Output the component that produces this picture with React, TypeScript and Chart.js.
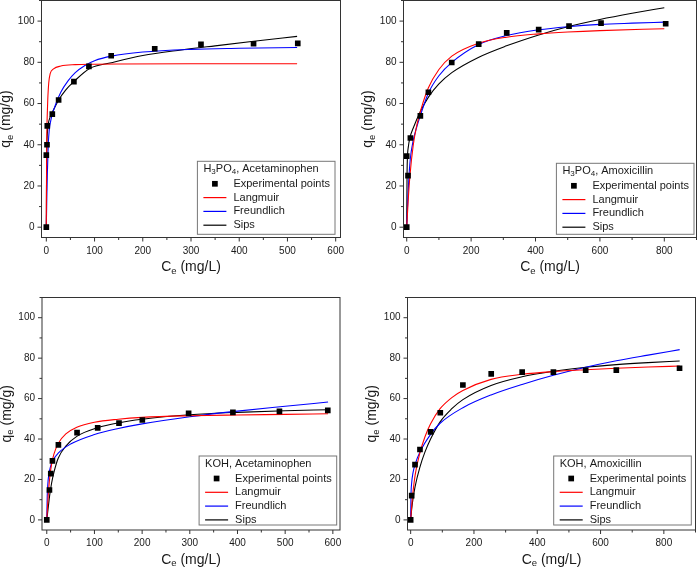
import React, { useEffect, useRef } from 'react';
import { Chart, registerables } from 'chart.js';
Chart.register(...registerables);

const FONT = '"Liberation Sans", Arial, Helvetica, sans-serif';
const AXIS_COLOR = '#333333';
const TEXT_COLOR = '#1a1a1a';

const SERIES_LABELS = ['Experimental points', 'Langmuir', 'Freundlich', 'Sips'];
const SERIES_COLORS = ['#000000', '#ff0000', '#0000ff', '#000000'];

const X_TITLE: [string, boolean][] = [['C', false], ['e', true], [' (mg/L)', false]];
const Y_TITLE: [string, boolean][] = [['q', false], ['e', true], [' (mg/g)', false]];

const Y_TICKS = [0, 20, 40, 60, 80, 100];

// ---------- Panel 1: H3PO4, Acetaminophen ----------
const p1Title: [string, boolean][] = [['H', false], ['3', true], ['PO', false], ['4', true], [', Acetaminophen', false]];
const p1XTicks = [0, 100, 200, 300, 400, 500, 600];
const p1ExpX = [0, 0, 1.4, 2, 12.4, 25.5, 57.2, 88.3, 134.5, 224.8, 320.7, 429.7, 521.4];
const p1ExpY = [0, 35, 40, 49.2, 54.9, 61.7, 70.6, 78, 83.2, 86.6, 88.7, 89, 89.2];
const p1LangX = [0, 0.5, 1, 2, 3, 5, 8, 15, 30, 60, 100, 150, 300, 520];
const p1LangY = [0, 30, 45, 55, 62, 70, 74.5, 76.8, 78.2, 78.9, 79.1, 79.2, 79.3, 79.3];
const p1FreuX = [0, 1, 2, 4, 6, 9, 12, 20, 30, 45, 60, 80, 100, 135, 200, 300, 400, 520];
const p1FreuY = [0, 14, 25, 40, 47, 51.5, 54.5, 60, 65.5, 71, 75, 78.5, 80.8, 83, 85, 86.3, 86.8, 87.2];
const p1SipsX = [0, 0.5, 1, 2, 4, 8, 12, 25, 40, 57, 90, 135, 200, 280, 350, 430, 520];
const p1SipsY = [0, 25, 38, 45, 50, 53.5, 55.5, 61.5, 66.5, 70.6, 77, 79.8, 83.3, 86, 88, 90.2, 92.6];

// ---------- Panel 2: H3PO4, Amoxicillin ----------
const p2Title: [string, boolean][] = [['H', false], ['3', true], ['PO', false], ['4', true], [', Amoxicillin', false]];
const p2XTicks = [0, 200, 400, 600, 800];
const p2ExpX = [0, 0, 4, 11.4, 42.4, 67.3, 139.8, 223.6, 310.6, 409.9, 504.1, 603.5, 804.3];
const p2ExpY = [0, 34.5, 25, 43.3, 54, 65.5, 79.9, 88.8, 94.3, 95.9, 97.6, 99, 98.7];
const p2LangX = [0, 5, 10, 20, 30, 45, 67, 100, 140, 224, 310, 410, 500, 600, 800];
const p2LangY = [0, 14, 25, 39.5, 48.5, 57.5, 67.5, 76.5, 83, 89.3, 92.2, 93.8, 94.7, 95.4, 96.3];
const p2FreuX = [0, 3, 6, 11, 20, 30, 42, 67, 100, 140, 224, 310, 410, 500, 600, 700, 800];
const p2FreuY = [0, 12, 22, 33, 42, 48, 54, 65, 73.5, 80, 88.7, 93, 95.8, 97.3, 98.4, 99, 99.5];
const p2SipsX = [0, 1, 2, 5, 10, 20, 42, 67, 100, 140, 224, 310, 410, 500, 600, 700, 800];
const p2SipsY = [0, 25, 33, 39, 43.5, 48, 56, 63, 69.5, 75, 82.5, 88, 93.3, 97.3, 100.8, 103.8, 106.5];

// ---------- Panel 3: KOH, Acetaminophen ----------
const p3Title: [string, boolean][] = [['KOH, Acetaminophen', false]];
const p3XTicks = [0, 100, 200, 300, 400, 500, 600];
const p3ExpX = [0, 5.6, 8.4, 11.9, 24.4, 63.5, 106.8, 151.5, 200.4, 297.5, 390.4, 488, 589.4];
const p3ExpY = [0, 14.8, 22.9, 29.2, 37.1, 43.2, 45.5, 47.9, 49.4, 52.7, 53.2, 53.7, 54.2];
const p3LangX = [0, 3, 6, 10, 15, 24, 40, 63, 100, 150, 200, 300, 400, 500, 590];
const p3LangY = [0, 12, 20.5, 27.5, 32.5, 37.8, 42.5, 45.8, 48.3, 49.8, 50.7, 51.5, 51.9, 52.2, 52.5];
const p3FreuX = [0, 1, 2, 4, 8, 12, 24, 50, 100, 150, 200, 300, 400, 500, 590];
const p3FreuY = [0, 12, 17, 22, 26.5, 29, 33, 37.5, 42.2, 45.2, 47.5, 51, 53.8, 56.2, 58.3];
const p3SipsX = [0, 3, 6, 10, 15, 24, 40, 63, 107, 150, 200, 300, 400, 500, 590];
const p3SipsY = [0, 6, 12, 18, 23.5, 30.5, 36.5, 41.3, 45.6, 48, 49.8, 52, 53.2, 54, 54.5];

// ---------- Panel 4: KOH, Amoxicillin ----------
const p4Title: [string, boolean][] = [['KOH, Amoxicillin', false]];
const p4XTicks = [0, 200, 400, 600, 800];
const p4ExpX = [0, 3.2, 13.7, 29.4, 63.1, 93.6, 165, 254.5, 352.3, 451, 553, 649.8, 849.6];
const p4ExpY = [0, 12, 27.3, 34.8, 43.5, 53, 66.7, 72.2, 73.1, 73.1, 74, 74.1, 75];
const p4LangX = [0, 5, 14, 29, 45, 63, 93, 130, 165, 254, 352, 451, 553, 650, 750, 850];
const p4LangY = [0, 10, 22, 33, 41, 47.5, 55, 60.5, 64, 69.5, 72, 73.4, 74.3, 75, 75.6, 76.1];
const p4FreuX = [0, 1, 3, 7, 14, 29, 63, 93, 165, 254, 352, 451, 553, 650, 750, 850];
const p4FreuY = [0, 12, 18, 23, 27.5, 33.5, 42.3, 47.8, 55.5, 61.8, 67, 71.5, 75.5, 78.7, 81.5, 84.2];
const p4SipsX = [0, 3, 7, 14, 29, 45, 63, 93, 130, 165, 254, 352, 451, 553, 650, 750, 850];
const p4SipsY = [0, 5, 10, 16.5, 26, 33.5, 40, 48.5, 55, 59.5, 66.5, 70.8, 73.5, 75.5, 76.8, 77.8, 78.6];

type Parts = [string, boolean][];
type Panel = {
  x: number; y: number; w: number; h: number;
  area: { l: number; t: number; r: number; b: number };
  xMin: number; xMax: number; xTicks: number[]; xMinor: number;
  title: Parts; lgRight: number; lgBottom: number; lgHeight: number;
  series: [number[], number[]][];
};

const PANELS: Panel[] = [
  {
    x: 0, y: 0, w: 349, h: 284, area: { l: 41.5, t: 0.5, r: 340.5, b: 237.5 },
    xMin: -10, xMax: 610, xTicks: p1XTicks, xMinor: 50,
    title: p1Title, lgRight: 5.5, lgBottom: 3.2, lgHeight: 73,
    series: [[p1ExpX, p1ExpY], [p1LangX, p1LangY], [p1FreuX, p1FreuY], [p1SipsX, p1SipsY]],
  },
  {
    x: 349, y: 0, w: 349, h: 284, area: { l: 54.5, t: 0.5, r: 347.5, b: 237.5 },
    xMin: -10, xMax: 900, xTicks: p2XTicks, xMinor: 100,
    title: p2Title, lgRight: 2.5, lgBottom: 3.2, lgHeight: 71,
    series: [[p2ExpX, p2ExpY], [p2LangX, p2LangY], [p2FreuX, p2FreuY], [p2SipsX, p2SipsY]],
  },
  {
    x: 0, y: 284, w: 349, h: 284, area: { l: 42, t: 13.5, r: 340, b: 246 },
    xMin: -10, xMax: 615, xTicks: p3XTicks, xMinor: 50,
    title: p3Title, lgRight: 3.3, lgBottom: 5, lgHeight: 69,
    series: [[p3ExpX, p3ExpY], [p3LangX, p3LangY], [p3FreuX, p3FreuY], [p3SipsX, p3SipsY]],
  },
  {
    x: 349, y: 284, w: 349, h: 284, area: { l: 58.5, t: 13.5, r: 346.5, b: 246 },
    xMin: -10, xMax: 900, xTicks: p4XTicks, xMinor: 100,
    title: p4Title, lgRight: 4.2, lgBottom: 5, lgHeight: 69,
    series: [[p4ExpX, p4ExpY], [p4LangX, p4LangY], [p4FreuX, p4FreuY], [p4SipsX, p4SipsY]],
  },
];

function partsWidth(ctx: CanvasRenderingContext2D, parts: Parts, size: number, subSize: number) {
  let w = 0;
  for (const [t, sub] of parts) {
    ctx.font = `${sub ? subSize : size}px ${FONT}`;
    w += ctx.measureText(t).width;
  }
  return w;
}

function drawParts(ctx: CanvasRenderingContext2D, parts: Parts, x: number, y: number, size: number, subSize: number, subDy: number) {
  let cx = x;
  for (const [t, sub] of parts) {
    ctx.font = `${sub ? subSize : size}px ${FONT}`;
    ctx.fillText(t, cx, sub ? y + subDy : y);
    cx += ctx.measureText(t).width;
  }
}

function makePlugin(p: Panel) {
  return {
    id: 'originFrame',
    afterDatasetsDraw(chart: any) {
      const { ctx, chartArea: a, scales } = chart;
      const xs = scales.x, ys = scales.y;
      ctx.save();
      ctx.strokeStyle = AXIS_COLOR;
      ctx.lineWidth = 1;
      ctx.strokeRect(a.left, a.top, a.right - a.left, a.bottom - a.top);
      ctx.beginPath();
      const xStep = p.xTicks[1] - p.xTicks[0];
      for (let v = 0; v <= p.xMax; v += p.xMinor) {
        const px = xs.getPixelForValue(v);
        const major = Math.abs(v / xStep - Math.round(v / xStep)) < 1e-6;
        ctx.moveTo(px, a.bottom);
        ctx.lineTo(px, a.bottom + (major ? 4 : 2.5));
      }
      for (let v = 0; v <= 110; v += 10) {
        const py = ys.getPixelForValue(v);
        const major = v % 20 === 0;
        ctx.moveTo(a.left, py);
        ctx.lineTo(a.left - (major ? 4 : 2.5), py);
      }
      ctx.stroke();
      ctx.restore();
    },
    afterDraw(chart: any) {
      const { ctx, chartArea: a } = chart;
      ctx.save();
      ctx.fillStyle = TEXT_COLOR;
      ctx.textBaseline = 'middle';
      // x title
      const xw = partsWidth(ctx, X_TITLE, 14, 9.5);
      drawParts(ctx, X_TITLE, (a.left + a.right) / 2 - xw / 2, a.bottom + 30, 14, 9.5, 3.5);
      // y title
      ctx.save();
      ctx.translate(a.left - 35, (a.top + a.bottom) / 2);
      ctx.rotate(-Math.PI / 2);
      const yw = partsWidth(ctx, Y_TITLE, 14, 9.5);
      drawParts(ctx, Y_TITLE, -yw / 2, 0, 14, 9.5, 3.5);
      ctx.restore();

      // legend
      const ds = chart.data.datasets;
      ctx.font = `11px ${FONT}`;
      let maxW = 0;
      for (const d of ds) maxW = Math.max(maxW, ctx.measureText(d.label).width);
      const tW = partsWidth(ctx, p.title, 11, 8);
      const boxW = Math.max(tW + 10, 36 + maxW + 5);
      const right = a.right - p.lgRight;
      const bottom = a.bottom - p.lgBottom;
      const left = right - boxW;
      const top = bottom - p.lgHeight;
      ctx.fillStyle = '#ffffff';
      ctx.fillRect(left, top, boxW, p.lgHeight);
      ctx.strokeStyle = '#777777';
      ctx.lineWidth = 1;
      ctx.strokeRect(left, top, boxW, p.lgHeight);
      ctx.fillStyle = TEXT_COLOR;
      drawParts(ctx, p.title, left + 6, top + 7.5, 11, 8, 3);
      ds.forEach((d: any, i: number) => {
        const yy = top + 22.5 + i * 13.8;
        if (i === 0) {
          ctx.fillStyle = d.backgroundColor;
          const s = 5.7;
          ctx.fillRect(left + 17.5 - s / 2, yy - s / 2, s, s);
        } else {
          ctx.strokeStyle = d.borderColor;
          ctx.lineWidth = 1.2;
          ctx.beginPath();
          ctx.moveTo(left + 6, yy);
          ctx.lineTo(left + 29, yy);
          ctx.stroke();
        }
        ctx.fillStyle = TEXT_COLOR;
        ctx.font = `11px ${FONT}`;
        ctx.fillText(d.label, left + 36, yy);
      });
      ctx.restore();
    },
  };
}

function PanelChart({ p }: { p: Panel }) {
  const ref = useRef<HTMLCanvasElement>(null);
  useEffect(() => {
    const datasets = p.series.map(([xs, ys], i) => {
      const data = xs.map((x, k) => ({ x, y: ys[k] }));
      if (i === 0) {
        return {
          label: SERIES_LABELS[i], data, showLine: false,
          pointStyle: 'rect', pointRadius: 4, pointHoverRadius: 4,
          backgroundColor: SERIES_COLORS[i], borderColor: SERIES_COLORS[i], borderWidth: 0,
        };
      }
      return {
        label: SERIES_LABELS[i], data, showLine: true, pointRadius: 0, pointHoverRadius: 0,
        borderColor: SERIES_COLORS[i], backgroundColor: SERIES_COLORS[i], borderWidth: 1.1,
        cubicInterpolationMode: 'monotone', fill: false,
      };
    });
    const chart = new Chart(ref.current!, {
      type: 'scatter',
      data: { datasets: datasets as any },
      options: {
        animation: false,
        responsive: false,
        devicePixelRatio: window.devicePixelRatio || 1,
        layout: { autoPadding: false, padding: { top: p.area.t, right: p.w - p.area.r, left: 0, bottom: 0 } },
        plugins: { legend: { display: false }, tooltip: { enabled: false }, title: { display: false } },
        scales: {
          x: {
            type: 'linear', min: p.xMin, max: p.xMax,
            grid: { display: false, drawTicks: false }, border: { display: false },
            afterBuildTicks: (s: any) => { s.ticks = p.xTicks.map((v) => ({ value: v })); },
            afterFit: (s: any) => {
              s.height = p.h - p.area.b;
              s.paddingLeft = 0; s.paddingRight = 0; s.paddingTop = 0; s.paddingBottom = 0;
            },
            ticks: { font: { family: FONT, size: 10 }, color: TEXT_COLOR, padding: 7.5, maxRotation: 0, autoSkip: false },
          },
          y: {
            type: 'linear', min: -5, max: 110,
            grid: { display: false, drawTicks: false }, border: { display: false },
            afterBuildTicks: (s: any) => { s.ticks = Y_TICKS.map((v) => ({ value: v })); },
            afterFit: (s: any) => {
              s.width = p.area.l;
              s.paddingLeft = 0; s.paddingRight = 0; s.paddingTop = 0; s.paddingBottom = 0;
            },
            ticks: { font: { family: FONT, size: 10 }, color: TEXT_COLOR, padding: 7, autoSkip: false },
          },
        },
      } as any,
      plugins: [makePlugin(p)],
    });
    return () => chart.destroy();
  }, [p]);
  return (
    <canvas
      ref={ref}
      width={p.w}
      height={p.h}
      style={{ position: 'absolute', left: p.x, top: p.y, width: p.w, height: p.h }}
    />
  );
}

export default function App() {
  return (
    <div style={{ position: 'absolute', left: 0, top: 0, width: 698, height: 568, background: '#ffffff', overflow: 'hidden' }}>
      {PANELS.map((p, i) => (
        <PanelChart key={i} p={p} />
      ))}
    </div>
  );
}
